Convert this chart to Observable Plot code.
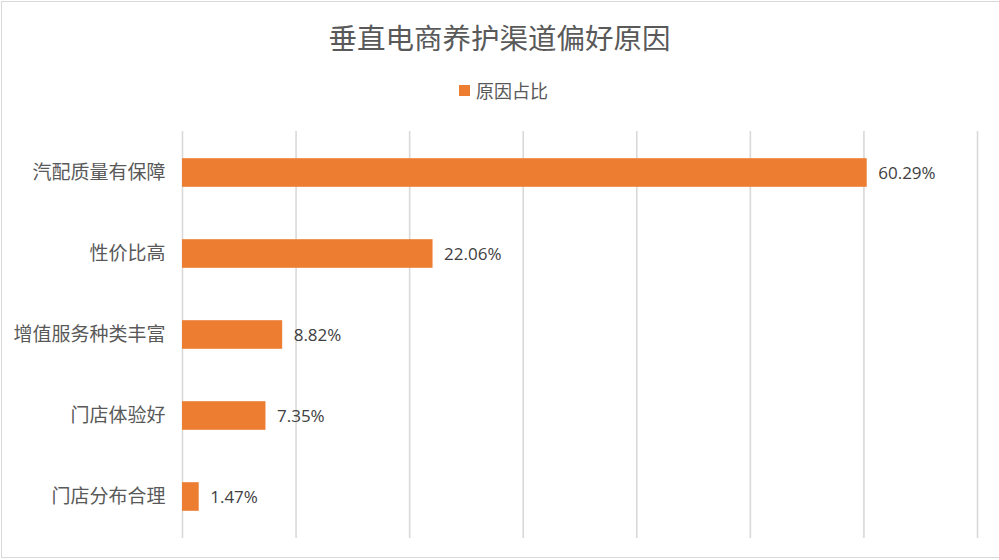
<!DOCTYPE html>
<html>
<head>
<meta charset="utf-8">
<script src="https://cdn.jsdelivr.net/npm/d3@7"></script>
<script src="https://cdn.jsdelivr.net/npm/@observablehq/plot@0.6"></script>
<style>
  html, body { margin: 0; padding: 0; background: #fff; }
  #wrap { position: relative; width: 999px; height: 560px; overflow: hidden; font-family: "Noto Sans CJK SC", "Noto Sans", sans-serif; }
  #frame { position: absolute; left: 1px; top: 1px; width: 998px; height: 557px; border: 1px solid #d9d9d9; box-sizing: border-box; border-right: none; pointer-events: none; }
  #title { position: absolute; left: 0; width: 999px; top: 18px; text-align: center; font-size: 28.5px; color: #595959; line-height: 38px; }
  #legend { position: absolute; left: 459px; top: 78px; height: 24px; display: flex; align-items: center; font-size: 18px; color: #595959; }
  #legend .sw { width: 11px; height: 11px; background: #ED7D31; margin-right: 6px; }
  #chart { position: absolute; left: 0; top: 0; }
</style>
</head>
<body>
<div id="wrap">
  <div id="chart"></div>
  <div id="title">垂直电商养护渠道偏好原因</div>
  <div id="legend"><span class="sw"></span><span id="legendLabel"></span></div>
  <div id="frame"></div>
</div>
<script>
const categories = ["汽配质量有保障", "性价比高", "增值服务种类丰富", "门店体验好", "门店分布合理"];
const shares = [60.29, 22.06, 8.82, 7.35, 1.47];
const gridTicks = [0, 10, 20, 30, 40, 50, 60, 70];
const seriesName = "原因占比";

document.getElementById("legendLabel").textContent = seriesName;

const data = categories.map((c, i) => ({ category: c, share: shares[i] }));

const chart = Plot.plot({
  width: 999,
  height: 560,
  marginLeft: 182,
  marginRight: 22,
  marginTop: 131,
  marginBottom: 22,
  style: { fontFamily: '"Noto Sans CJK SC", "Noto Sans", sans-serif', fontSize: "19px", color: "#595959", background: "transparent" },
  x: { domain: [0, 70], axis: null },
  y: { domain: categories, padding: 0, label: null },
  marks: [
    Plot.ruleX(gridTicks, { stroke: "#d9d9d9", strokeWidth: 1.6 }),
    Plot.barX(data, { x: "share", y: "category", fill: "#ED7D31", insetTop: 26.2, insetBottom: 26.2 }),
    Plot.text(data, { x: "share", y: "category", text: d => d.share.toFixed(2) + "%", textAnchor: "start", dx: 11, dy: 1, fill: "#404040", fontSize: 17, fontFamily: '"Open Sans", "Noto Sans", sans-serif' }),
    Plot.axisY({ tickSize: 0, tickPadding: 17, fontSize: 19, label: null })
  ]
});
document.getElementById("chart").appendChild(chart);
</script>
</body>
</html>
